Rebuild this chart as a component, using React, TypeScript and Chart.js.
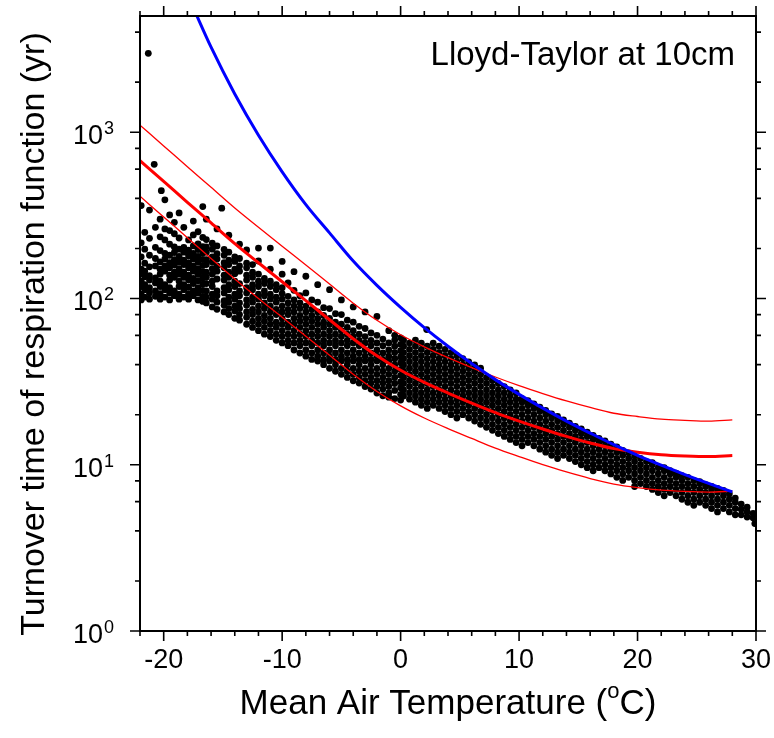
import React, { useEffect, useRef } from "react";
import { Chart, registerables } from "chart.js";

Chart.register(...registerables);

// ---------------- axes ----------------
const X_MIN = -22;
const X_MAX = 30;
const Y_MIN = 1;
const Y_MAX = 5000;
const xMajorTicks = [-20, -10, 0, 10, 20, 30];
const xMinorTicks = [-22, -18, -16, -14, -12, -8, -6, -4, -2, 2, 4, 6, 8, 12, 14, 16, 18, 22, 24, 26, 28];
const yMajorTicks = [1, 10, 100, 1000];
const yMajorExponents = ["0", "1", "2", "3"];
const yMinorTicks = [2, 4, 6, 8, 20, 40, 60, 80, 200, 400, 600, 800, 2000, 4000];

const xTitle = "Mean Air Temperature (";
const xTitleSup = "o";
const xTitleEnd = "C)";
const yTitle = "Turnover time of respiration function (yr)";
const panelLabel = "Lloyd-Taylor at 10cm";

// ---------------- fitted curves ----------------
const redT = [-22, -20, -18, -16, -14, -12, -10, -8, -6, -4, -2, 0, 2, 4, 6, 8, 10, 12, 14, 16, 18, 20, 22, 24, 26, 28];
const redMiddle = [674, 506, 379, 285, 214, 164, 126, 97, 74.5, 57.3, 45.2, 37, 31.3, 27.0, 23.5, 20.6, 18.3, 16.4, 14.8, 13.5, 12.5, 11.9, 11.5, 11.3, 11.2, 11.35];
const redUpper = [1102, 827, 620, 466, 350, 268, 206, 159, 122, 93.7, 73.9, 60.5, 51.2, 44.1, 38.4, 33.7, 29.9, 26.8, 24.2, 22.1, 20.4, 19.5, 18.8, 18.5, 18.3, 18.6];
const redLower = [412, 309, 232, 174, 131, 100, 77.1, 59.3, 45.6, 35.0, 27.6, 22.6, 19.1, 16.5, 14.4, 12.6, 11.2, 10.0, 9.05, 8.26, 7.65, 7.28, 7.03, 6.91, 6.85, 6.94];

const blueT = [-17.5, -16, -14, -12, -10, -8, -6, -4, -2, 0, 2, 4, 6, 8, 10, 12, 14, 16, 18, 20, 22, 24, 26, 28];
const blueValues = [5600, 3245, 1699, 960, 578, 367, 248, 168, 120, 88.5, 66.8, 51.6, 40.6, 32.5, 26.5, 21.9, 18.3, 15.5, 13.2, 11.4, 9.95, 8.73, 7.72, 6.87];

// ---------------- scatter cloud: [temperature, turnover values...] ----------------
const cloudCold: number[][] = [
  [-21.9, 98, 106, 118, 127, 141, 150, 178, 216, 362],
  [-21.6, 102, 113, 121, 135, 146, 163, 198, 250],
  [-21.3, 2980],
  [-21.2, 99, 108, 116, 129, 137, 155, 182, 230, 340],
  [-20.8, 641],
  [-20.7, 103, 111, 124, 133, 157, 174, 203, 268],
  [-20.3, 99, 107, 118, 127, 140, 150, 166, 194, 235, 300],
  [-20.2, 445],
  [-19.9, 102, 113, 121, 146, 157, 173, 187, 225, 262, 392],
  [-19.5, 98, 108, 116, 129, 138, 153, 164, 182, 212, 256, 318],
  [-19.1, 104, 111, 134, 144, 159, 171, 189, 204, 245, 287],
  [-18.7, 99, 106, 118, 127, 140, 151, 166, 179, 198, 231, 327],
  [-18.3, 102, 113, 121, 134, 144, 160, 170, 190, 203, 268],
  [-17.9, 99, 107, 117, 129, 138, 153, 164, 181, 195, 225],
  [-17.5, 104, 111, 123, 132, 146, 157, 173, 187, 207, 241, 292],
  [-17.1, 98, 108, 116, 128, 140, 151, 166, 179, 197, 213, 252],
  [-16.7, 96, 103, 112, 122, 133, 145, 158, 172, 188, 205, 233, 357],
];

const cloudMid: number[][] = [
  [-16.4, 94, 102, 111, 123, 134, 144, 160, 171, 190, 204, 226, 300],
  [-15.9, 89, 99, 106, 118, 127, 140, 151, 166, 178, 198, 215],
  [-15.5, 86, 95, 104, 111, 131, 146, 157, 173, 186, 207, 262],
  [-15.1, 349],
  [-14.9, 83, 91, 97, 108, 116, 129, 138, 153, 164, 182, 197],
  [-14.5, 80, 87, 95, 102, 113, 121, 134, 144, 160, 170, 190, 240],
  [-14.0, 76, 84, 90, 99, 106, 118, 127, 141, 150, 167, 178],
  [-13.6, 74, 80, 87, 94, 104, 111, 123, 146, 157, 174, 212],
  [-13.0, 70, 77, 83, 91, 98, 108, 116, 129, 138, 153, 163, 196],
  [-12.5, 67, 73, 80, 86, 95, 102, 113, 121, 134, 144, 160],
  [-12.0, 64, 70, 76, 83, 90, 99, 106, 118, 127, 140, 168, 201],
  [-11.5, 61, 67, 73, 79, 87, 94, 104, 111, 123, 132],
  [-11.0, 59, 64, 70, 76, 83, 90, 99, 106, 118, 127, 150, 201],
  [-10.5, 56, 61, 67, 72, 80, 86, 95, 102, 113, 121],
  [-10.0, 54, 59, 64, 70, 76, 83, 90, 99, 107, 116, 140, 167],
  [-9.5, 52, 56, 61, 67, 72, 80, 86, 94, 103, 124],
  [-9.0, 49, 54, 59, 64, 70, 76, 83, 90, 98, 112, 145],
  [-8.5, 47, 52, 56, 61, 67, 73, 79, 87, 94, 104],
  [-8.0, 45, 49, 54, 59, 64, 70, 76, 83, 90, 108, 136],
  [-7.5, 43, 47, 52, 56, 61, 67, 73, 79, 86, 98],
  [-7.0, 42, 45, 49, 54, 59, 64, 70, 76, 83, 95, 121],
  [-6.5, 40, 43, 47, 52, 56, 61, 67, 72, 79, 88],
  [-6.0, 38, 42, 45, 49, 54, 59, 64, 70, 76, 87, 113],
  [-5.5, 36.5, 40, 43, 47, 52, 56, 61, 67, 72, 81],
  [-5.0, 35, 38, 42, 45, 49, 54, 59, 64, 70, 80, 98],
  [-4.5, 33.5, 36.5, 40, 43, 47, 52, 56, 61, 67, 74],
  [-4.0, 32, 35, 38, 42, 45, 49, 54, 59, 64, 72, 89],
  [-3.5, 31, 33.5, 36.5, 40, 43, 47, 52, 56, 61, 68],
  [-3.0, 29.5, 32, 35, 38, 42, 45, 49, 54, 59, 66, 83],
  [-2.5, 28.5, 31, 33.5, 36.5, 40, 43, 47, 52, 56, 62],
  [-2.0, 27, 29.5, 32, 35, 38, 42, 45, 49, 54, 60, 78],
  [-1.5, 26, 28.5, 31, 33.5, 36.5, 40, 43, 47, 52, 57],
  [-1.0, 25.5, 27, 29.5, 32, 35, 38, 42, 45, 49, 54, 64],
  [-0.5, 25, 28, 30.8, 33.5, 36.5, 39.8, 43.4, 47.3, 51.6, 56.2, 60],
  [0, 24.5, 26.5, 29, 31.5, 34.5, 37.5, 41, 44.5, 48.5, 53, 58],
];

const cloudWarm: number[][] = [
  [0.25, 25.9, 28.2, 30.8, 33.5, 36.5, 39.8, 43.4, 47.3, 51.6, 56.2],
  [0.75, 24.8, 27, 29.5, 32.1, 35, 38.1, 41.6, 45.3, 49.4, 53.9],
  [1.25, 23.8, 25.9, 28.2, 30.8, 33.5, 36.5, 39.8, 43.4, 47.3, 51.6, 56.2],
  [1.75, 22.8, 24.8, 27, 29.5, 32.1, 35, 38.1, 41.6, 45.3, 49.4, 53.9],
  [2.2, 65],
  [2.25, 21.8, 23.8, 25.9, 28.2, 30.8, 33.5, 36.5, 39.8, 43.4, 47.3, 51.6],
  [2.75, 22.8, 24.8, 27, 29.5, 32.1, 35, 38.1, 41.6, 45.3, 49.4, 53.9],
  [3.25, 21.8, 23.8, 25.9, 28.2, 30.8, 33.5, 36.5, 39.8, 43.4, 47.3, 51.6],
  [3.75, 20.9, 22.8, 24.8, 27, 29.5, 32.1, 35, 38.1, 41.6, 45.3, 49.4],
  [4.25, 20, 21.8, 23.8, 25.9, 28.2, 30.8, 33.5, 36.5, 39.8, 43.4, 47.3],
  [4.75, 19.1, 20.9, 22.8, 24.8, 27, 29.5, 32.1, 35, 38.1, 41.6, 45.3],
  [5.25, 20, 21.8, 23.8, 25.9, 28.2, 30.8, 33.5, 36.5, 39.8, 43.4],
  [5.75, 19.1, 20.9, 22.8, 24.8, 27, 29.5, 32.1, 35, 38.1, 41.6],
  [6.25, 18.3, 20, 21.8, 23.8, 25.9, 28.2, 30.8, 33.5, 36.5, 39.8],
  [6.75, 17.5, 19.1, 20.9, 22.8, 24.8, 27, 29.5, 32.1, 35, 38.1],
  [7.25, 16.8, 18.3, 20, 21.8, 23.8, 25.9, 28.2, 30.8, 33.5],
  [7.75, 16.1, 17.5, 19.1, 20.9, 22.8, 24.8, 27, 29.5, 32.1],
  [8.25, 15.4, 16.8, 18.3, 20, 21.8, 23.8, 25.9, 28.2, 30.8],
  [8.75, 14.8, 16.1, 17.5, 19.1, 20.9, 22.8, 24.8, 27, 29.5],
  [9.25, 14.2, 15.4, 16.8, 18.3, 20, 21.8, 23.8, 25.9, 28.2],
  [9.75, 13.6, 14.8, 16.1, 17.5, 19.1, 20.9, 22.8, 24.8, 27],
  [10.25, 13, 14.2, 15.4, 16.8, 18.3, 20, 21.8, 23.8, 25],
  [10.75, 13.6, 14.8, 16.1, 17.5, 19.1, 20.9, 22.8, 24.3],
  [11.25, 13, 14.2, 15.4, 16.8, 18.3, 20, 21.8, 23.2],
  [11.75, 12.4, 13.6, 14.8, 16.1, 17.5, 19.1, 20.9, 22.2],
  [12.25, 11.9, 13, 14.2, 15.4, 16.8, 18.3, 20, 21.2],
  [12.75, 11.4, 12.4, 13.6, 14.8, 16.1, 17.5, 19.1, 20.2],
  [13.25, 10.9, 11.9, 13, 14.2, 15.4, 16.8, 18.3, 19.5],
  [13.75, 11.4, 12.4, 13.6, 14.8, 16.1, 17.5, 18.6],
  [14.25, 10.9, 11.9, 13, 14.2, 15.4, 16.8, 17.8],
  [14.75, 10.45, 11.4, 12.4, 13.6, 14.8, 16.1, 17.0],
  [15.25, 10, 10.9, 11.9, 13, 14.2, 15.4, 16.4],
  [15.75, 9.6, 10.45, 11.4, 12.4, 13.6, 14.8, 15.7],
  [16.25, 9.2, 10, 10.9, 11.9, 13, 14.2, 15.0],
  [16.75, 9.6, 10.45, 11.4, 12.4, 13.6, 14.4],
  [17.25, 9.2, 10, 10.9, 11.9, 13, 13.9],
  [17.75, 8.8, 9.6, 10.45, 11.4, 12.4, 13.3],
  [18.25, 8.4, 9.2, 10, 10.9, 11.9, 12.8],
  [18.75, 8.05, 8.8, 9.6, 10.45, 11.4, 12.2],
  [19.25, 8.4, 9.2, 10, 10.9, 11.8],
  [19.75, 7.4, 8.05, 8.8, 9.6, 10.45, 11.3],
  [20.25, 7.7, 8.4, 9.2, 10, 10.9],
  [20.75, 7.4, 8.05, 8.8, 9.6, 10.45],
  [21.25, 7.1, 7.7, 8.4, 9.2, 10, 10.3],
  [21.75, 6.8, 7.4, 8.05, 8.8, 9.6],
  [22.25, 6.5, 7.1, 7.7, 8.4, 9.2, 9.6],
  [22.75, 6.8, 7.4, 8.05, 8.8, 9.2],
  [23.25, 6.5, 7.1, 7.7, 8.4, 8.9],
  [23.75, 6.2, 6.8, 7.4, 8.05, 8.6],
  [24.25, 5.95, 6.5, 7.1, 7.7, 8.4],
  [24.75, 5.7, 6.2, 6.8, 7.4, 8.05],
  [25.25, 5.95, 6.5, 7.1, 7.7, 7.9],
  [25.75, 5.7, 6.2, 6.8, 7.4, 7.6],
  [26.25, 5.45, 5.95, 6.5, 7.1, 7.4],
  [26.75, 5.2, 5.7, 6.2, 6.8, 7.2],
  [27.25, 5.45, 5.95, 6.5, 7.0],
  [27.75, 5.2, 5.7, 6.2, 6.7],
  [28.25, 5.0, 5.45, 5.95, 6.3],
  [28.75, 5.0, 5.4, 5.8],
  [29.25, 4.85, 5.2, 5.55],
  [29.75, 4.8, 5.1],
  [29.9, 4.43],
];

const FONT = '"Liberation Sans", Arial, Helvetica, sans-serif';

function columnsToPoints(cols: number[][]) {
  const pts: { x: number; y: number }[] = [];
  for (const col of cols) {
    for (let i = 1; i < col.length; i++) pts.push({ x: col[0], y: col[i] });
  }
  return pts;
}

function pairs(xs: number[], ys: number[]) {
  return xs.map((x, i) => ({ x, y: ys[i] }));
}

const nclAxesPlugin = {
  id: "nclAxes",
  afterDraw(chart: any) {
    const { ctx, chartArea: a, scales } = chart;
    const xs = scales.x;
    const ys = scales.y;
    ctx.save();
    ctx.strokeStyle = "#000";
    ctx.fillStyle = "#000";

    // ticks
    ctx.lineWidth = 1.6;
    ctx.beginPath();
    for (const v of xMajorTicks) {
      const px = xs.getPixelForValue(v);
      ctx.moveTo(px, a.bottom); ctx.lineTo(px, a.bottom + 10);
      ctx.moveTo(px, a.top); ctx.lineTo(px, a.top - 10);
    }
    for (const v of xMinorTicks) {
      const px = xs.getPixelForValue(v);
      ctx.moveTo(px, a.bottom); ctx.lineTo(px, a.bottom + 5);
      ctx.moveTo(px, a.top); ctx.lineTo(px, a.top - 5);
    }
    for (const v of yMajorTicks) {
      const py = ys.getPixelForValue(v);
      ctx.moveTo(a.left, py); ctx.lineTo(a.left - 10, py);
      ctx.moveTo(a.right, py); ctx.lineTo(a.right + 10, py);
    }
    for (const v of yMinorTicks) {
      const py = ys.getPixelForValue(v);
      ctx.moveTo(a.left, py); ctx.lineTo(a.left - 5, py);
      ctx.moveTo(a.right, py); ctx.lineTo(a.right + 5, py);
    }
    ctx.stroke();

    // frame
    ctx.lineWidth = 2;
    ctx.strokeRect(a.left, a.top, a.right - a.left, a.bottom - a.top);

    // x tick labels
    ctx.font = `27px ${FONT}`;
    ctx.textAlign = "center";
    ctx.textBaseline = "alphabetic";
    for (const v of xMajorTicks) {
      ctx.fillText(String(v), xs.getPixelForValue(v), a.bottom + 37);
    }

    // y tick labels 10^n
    yMajorTicks.forEach((v, i) => {
      const py = ys.getPixelForValue(v);
      ctx.font = `27px ${FONT}`;
      const wb = ctx.measureText("10").width;
      ctx.font = `18px ${FONT}`;
      const ws = ctx.measureText(yMajorExponents[i]).width;
      const right = a.left - 27;
      const x0 = right - wb - ws;
      ctx.textAlign = "left";
      ctx.font = `27px ${FONT}`;
      ctx.fillText("10", x0, py + 12);
      ctx.font = `18px ${FONT}`;
      ctx.fillText(yMajorExponents[i], x0 + wb + 1, py + 2);
    });

    // x title
    ctx.font = `35px ${FONT}`;
    const w1 = ctx.measureText(xTitle).width;
    const w3 = ctx.measureText(xTitleEnd).width;
    ctx.font = `22px ${FONT}`;
    const w2 = ctx.measureText(xTitleSup).width;
    const cx = (a.left + a.right) / 2;
    let tx = cx - (w1 + w2 + w3) / 2;
    ctx.textAlign = "left";
    ctx.font = `35px ${FONT}`;
    ctx.fillText(xTitle, tx, 714);
    tx += w1;
    ctx.font = `22px ${FONT}`;
    ctx.fillText(xTitleSup, tx, 698);
    tx += w2;
    ctx.font = `35px ${FONT}`;
    ctx.fillText(xTitleEnd, tx, 714);

    // y title
    ctx.save();
    ctx.translate(44, 334);
    ctx.rotate(-Math.PI / 2);
    ctx.textAlign = "center";
    ctx.font = `34px ${FONT}`;
    ctx.fillText(yTitle, 0, 0);
    ctx.restore();

    // panel label
    ctx.textAlign = "right";
    ctx.font = `33px ${FONT}`;
    ctx.fillText(panelLabel, 735, 65);

    ctx.restore();
  },
};

export default function App() {
  const ref = useRef<HTMLCanvasElement>(null);
  useEffect(() => {
    const canvas = ref.current;
    if (!canvas) return;
    const lineBase = {
      type: "line" as const,
      pointRadius: 0,
      fill: false,
      cubicInterpolationMode: "monotone" as const,
    };
    const chart = new Chart(canvas, {
      type: "scatter",
      data: {
        datasets: [
          { ...lineBase, label: "blue", data: pairs(blueT, blueValues), borderColor: "#0000ff", borderWidth: 3, order: 0 },
          { ...lineBase, label: "mid", data: pairs(redT, redMiddle), borderColor: "#ff0000", borderWidth: 3, order: 1 },
          { ...lineBase, label: "up", data: pairs(redT, redUpper), borderColor: "#ff0000", borderWidth: 1.3, order: 2 },
          { ...lineBase, label: "lo", data: pairs(redT, redLower), borderColor: "#ff0000", borderWidth: 1.3, order: 3 },
          {
            type: "scatter",
            label: "obs",
            data: [...columnsToPoints(cloudCold), ...columnsToPoints(cloudMid), ...columnsToPoints(cloudWarm)],
            pointRadius: 3.4,
            pointBackgroundColor: "#000",
            pointBorderWidth: 0,
            pointBorderColor: "#000",
            order: 5,
          } as any,
        ],
      },
      options: {
        animation: false,
        responsive: false,
        devicePixelRatio: 1,
        layout: { padding: { left: 140, top: 16, right: 18, bottom: 107 } },
        scales: {
          x: { type: "linear", min: X_MIN, max: X_MAX, display: false },
          y: { type: "logarithmic", min: Y_MIN, max: Y_MAX, display: false },
        },
        plugins: { legend: { display: false }, tooltip: { enabled: false } },
        events: [],
      },
      plugins: [nclAxesPlugin],
    } as any);
    return () => chart.destroy();
  }, []);
  return (
    <div style={{ position: "absolute", left: 0, top: 0, width: 774, height: 738, background: "#fff" }}>
      <canvas ref={ref} width={774} height={738} style={{ display: "block", width: 774, height: 738 }} />
    </div>
  );
}
